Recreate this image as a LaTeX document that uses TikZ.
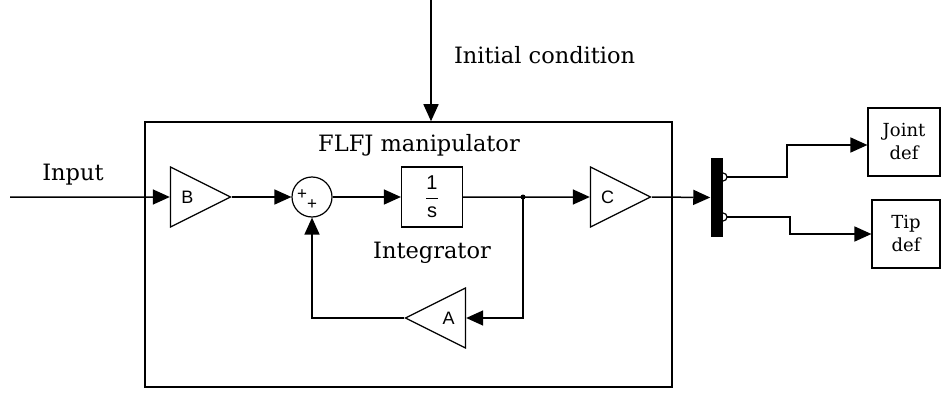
\documentclass[tikz,border=0pt]{standalone}
\usepackage{amsmath, amssymb}
\usepackage{fontspec}
\setsansfont{Liberation Sans}
\newfontfamily\diagfont{DejaVu Serif}
\usepackage{tikz}
\usetikzlibrary{shapes.geometric, arrows.meta, positioning, calc}

\begin{document}
\begin{tikzpicture}[x=1pt, y=-1pt, line width=1.5pt,
    sig/.style={-{Triangle[length=17pt, width=15pt]}},
    gain/.style={draw, line width=1.2pt, isosceles triangle, isosceles triangle stretches,
        minimum width=60pt, minimum height=60pt, inner sep=0pt, anchor=apex,
        font=\sffamily\fontsize{18}{18}\selectfont},
    blk/.style={draw, line width=1.2pt, rectangle, inner sep=0pt, align=center},
    lbl/.style={font=\diagfont\fontsize{22.5}{26}\selectfont},
    plus/.style={inner sep=0pt, font=\sffamily\fontsize{17}{17}\selectfont}]
        \useasboundingbox (0,0) rectangle (941,393);

        % Condizione iniziale
        \coordinate (ic) at (431,0);
        \node[lbl, anchor=west] (iclabel) at (450,55) {Initial condition};

        % Blocco manipolatore
        \node[draw, minimum width=527pt, minimum height=265pt, inner sep=0pt] (manip) at (408.5,254.5) {};
        \node[lbl] (title) at (419,145) {FLFJ manipulator};

        % Ingresso
        \coordinate (in) at (10,197);
        \node[lbl] (inlabel) at (73,175) {Input};

        % Blocchi interni
        \node[gain] (B) at (232,197) {B};
        \node[draw, circle, line width=1.2pt, minimum size=40pt, inner sep=0pt] (sum) at (312,197) {};
        \node[plus] (p1) at ($(sum.center)+(-10,-2)$) {+};
        \node[plus] (p2) at ($(sum.center)+(0,8)$) {+};
        \node[blk, minimum width=61pt, minimum height=60pt, font=\sffamily\fontsize{20}{20}\selectfont] (integ) at (432,197) {$\dfrac{\textsf{1}}{\textsf{s}}$};
        \node[lbl] (intlabel) at (432,253) {Integrator};
        \coordinate (split) at (523,197);
        \node[gain] (C) at (652,197) {C};
        \node[gain, shape border rotate=180] (A) at (404,318) {A};

        % Mux e uscite
        \node[fill=black, minimum width=12pt, minimum height=79pt, inner sep=0pt] (mux) at (717,197.5) {};
        \coordinate (o1) at (723,177);
        \coordinate (o2) at (723,217);
        \node[blk, minimum width=72pt, minimum height=68pt, font=\diagfont\fontsize{18}{23}\selectfont] (joint) at (904,142) {Joint\\def};
        \node[blk, minimum width=68pt, minimum height=68pt, font=\diagfont\fontsize{18}{23}\selectfont] (tip) at (906,234) {Tip\\def};

        % Collegamenti
        \draw[sig] (ic) -- (ic |- manip.north);
        \draw[sig] (in) -- (B.west);
        \draw[sig] (B.apex) -- (sum.west);
        \draw[sig] (sum.east) -- (integ.west);
        \draw[sig] (integ.east) -- (C.west);
        \fill (split) circle (2.5pt);
        \draw[sig] (split) |- (A.east);
        \draw[sig] (A.apex) -| (sum.south);
        \draw[sig] (C.apex) -- (mux.west);
        \draw[line width=1.2pt] ($(o1)+(0,-4)$) arc[start angle=-90, end angle=90, radius=4];
        \draw[line width=1.2pt] ($(o2)+(0,-4)$) arc[start angle=-90, end angle=90, radius=4];
        \draw[sig] ($(o1)+(4,0)$) -- ++(60,0) |- ($(joint.west)+(0,3)$);
        \draw[sig] ($(o2)+(4,0)$) -- ++(63,0) |- (tip.west);
    \end{tikzpicture}
\end{document}
